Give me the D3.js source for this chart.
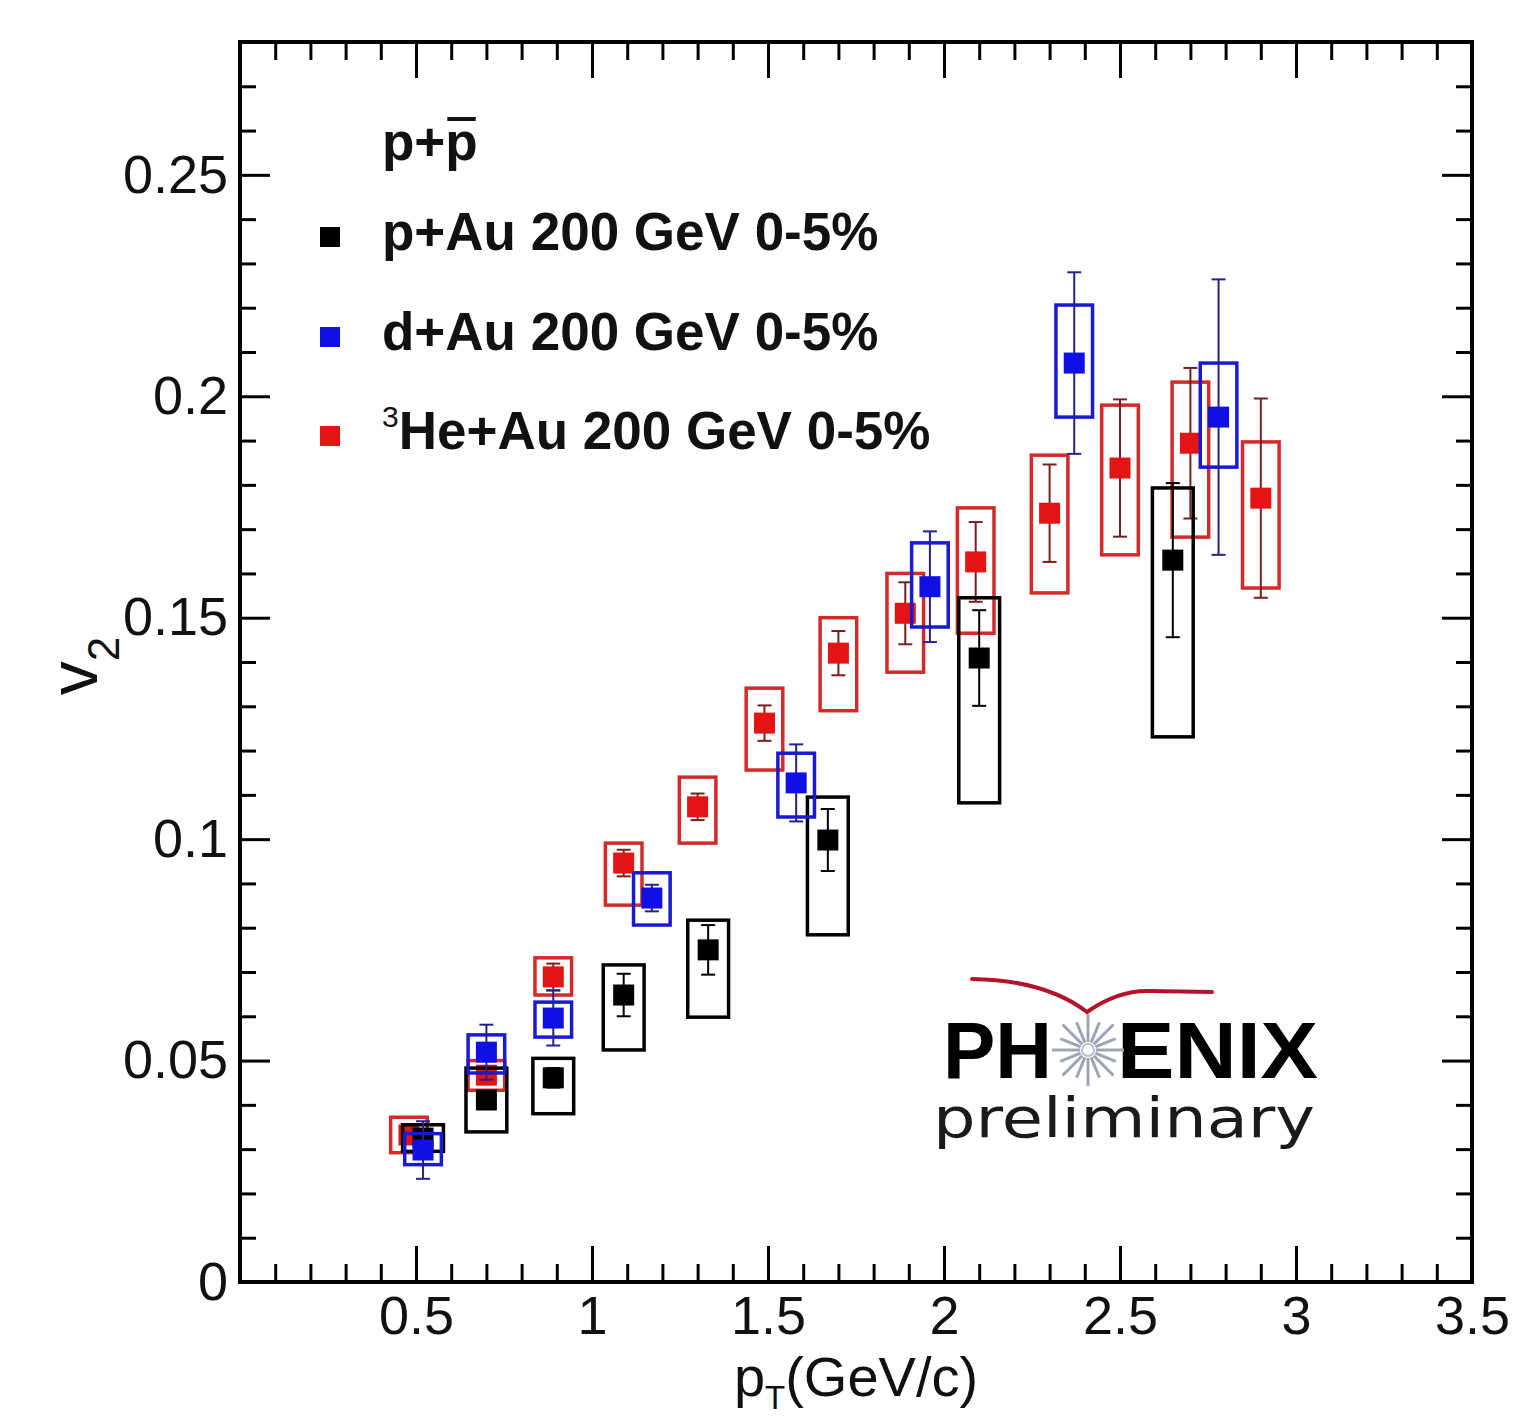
<!DOCTYPE html>
<html>
<head>
<meta charset="utf-8">
<script src="https://cdn.jsdelivr.net/npm/d3@7"></script>
<style>
  body { margin: 0; background: #fff; }
  svg { display: block; }
</style>
</head>
<body>
<svg id="chart" width="1532" height="1421"></svg>
<script>
// ---- axis ticks ----
const xMajorTicks = [0.5, 1, 1.5, 2, 2.5, 3, 3.5];
const yMajorTicks = [0, 0.05, 0.1, 0.15, 0.2, 0.25];
const xMinorTicks = [0.1,0.2,0.3,0.4,0.6,0.7,0.8,0.9,1.1,1.2,1.3,1.4,1.6,1.7,1.8,1.9,2.1,2.2,2.3,2.4,2.6,2.7,2.8,2.9,3.1,3.2,3.3,3.4];
const yMinorTicks = [0.01,0.02,0.03,0.04,0.06,0.07,0.08,0.09,0.11,0.12,0.13,0.14,0.16,0.17,0.18,0.19,0.21,0.22,0.23,0.24,0.26,0.27];

// ---- p+Au 200 GeV 0-5% ----
const pAuPt    = [0.52, 0.70, 0.89, 1.09, 1.33, 1.67, 2.10, 2.65];
const pAuV2    = [0.0325, 0.0411, 0.0461, 0.0648, 0.0750, 0.0998, 0.1409, 0.1630];
const pAuStat  = [0.0020, 0.0020, 0.0022, 0.0048, 0.0056, 0.0070, 0.0108, 0.0174];
const pAuSysLo = [0.0295, 0.0339, 0.0380, 0.0524, 0.0598, 0.0784, 0.1082, 0.1231];
const pAuSysHi = [0.0355, 0.0483, 0.0505, 0.0716, 0.0817, 0.1095, 0.1545, 0.1793];

// ---- d+Au 200 GeV 0-5% ----
const dAuPt    = [0.52, 0.70, 0.89, 1.17, 1.58, 1.96, 2.37, 2.78];
const dAuV2    = [0.0298, 0.0519, 0.0596, 0.0867, 0.1127, 0.1570, 0.2075, 0.1953];
const dAuStat  = [0.0065, 0.0062, 0.0062, 0.0030, 0.0087, 0.0125, 0.0205, 0.0311];
const dAuSysLo = [0.0265, 0.0472, 0.0553, 0.0806, 0.1050, 0.1479, 0.1953, 0.1840];
const dAuSysHi = [0.0335, 0.0558, 0.0632, 0.0924, 0.1194, 0.1669, 0.2206, 0.2075];

// ---- 3He+Au 200 GeV 0-5% ----
const heAuPt    = [0.48, 0.70, 0.89, 1.09, 1.30, 1.49, 1.70, 1.89, 2.09, 2.30, 2.50, 2.70, 2.90];
const heAuV2    = [0.0332, 0.0467, 0.0689, 0.0946, 0.1073, 0.1262, 0.1420, 0.1510, 0.1626, 0.1736, 0.1838, 0.1894, 0.1770];
const heAuStat  = [0.0020, 0.0020, 0.0030, 0.0030, 0.0030, 0.0040, 0.0050, 0.0070, 0.0090, 0.0110, 0.0155, 0.0170, 0.0225];
const heAuSysLo = [0.0292, 0.0433, 0.0648, 0.0851, 0.0991, 0.1156, 0.1290, 0.1377, 0.1465, 0.1556, 0.1642, 0.1682, 0.1567];
const heAuSysHi = [0.0372, 0.0500, 0.0732, 0.0991, 0.1140, 0.1341, 0.1500, 0.1600, 0.1748, 0.1867, 0.1980, 0.2032, 0.1897];

const FONT = "'Liberation Sans', Arial, Helvetica, sans-serif";

const svg = d3.select("#chart");
const plot = { left: 240, right: 1472, top: 42, bottom: 1282 };

const x = d3.scaleLinear().domain([0, 3.5]).range([plot.left, plot.right]);
const y = d3.scaleLinear().domain([0, 0.28]).range([plot.bottom, plot.top]);

function pack(pt, v2, stat, lo, hi) {
  return pt.map((p, i) => ({ pt: p, v2: v2[i], stat: stat[i], lo: lo[i], hi: hi[i] }));
}

// drawn in this order so later series sit on top
const series = [
  { key: "he", data: pack(heAuPt, heAuV2, heAuStat, heAuSysLo, heAuSysHi),
    marker: "#e51414", box: "#d42a2a", bar: "#7a1f1f", halfW: 0.052 },
  { key: "p",  data: pack(pAuPt, pAuV2, pAuStat, pAuSysLo, pAuSysHi),
    marker: "#000000", box: "#000000", bar: "#000000", halfW: 0.058 },
  { key: "d",  data: pack(dAuPt, dAuV2, dAuStat, dAuSysLo, dAuSysHi),
    marker: "#1010e6", box: "#1a1ad2", bar: "#23238f", halfW: 0.052 }
];

// ---- axes: inward ticks on all four sides ----
function styleAxis(g, withText) {
  g.select(".domain").remove();
  g.selectAll(".tick line").attr("stroke", "#000").attr("stroke-width", 3);
  if (withText) {
    g.selectAll(".tick text").attr("fill", "#111").style("font-family", FONT).style("font-size", "54px");
  } else {
    g.selectAll(".tick text").remove();
  }
}
const fmt = d => d === 0 ? "0" : String(+d.toFixed(2));

svg.append("g").attr("transform", `translate(0,${plot.bottom})`)
  .call(d3.axisBottom(x).tickValues(xMajorTicks).tickSizeInner(-36).tickSizeOuter(0).tickPadding(14).tickFormat(fmt))
  .call(g => styleAxis(g, true));
svg.append("g").attr("transform", `translate(0,${plot.bottom})`)
  .call(d3.axisBottom(x).tickValues(xMinorTicks).tickSizeInner(-18).tickSizeOuter(0).tickFormat(""))
  .call(g => styleAxis(g, false));
svg.append("g").attr("transform", `translate(0,${plot.top})`)
  .call(d3.axisTop(x).tickValues(xMajorTicks).tickSizeInner(-36).tickSizeOuter(0))
  .call(g => styleAxis(g, false));
svg.append("g").attr("transform", `translate(0,${plot.top})`)
  .call(d3.axisTop(x).tickValues(xMinorTicks).tickSizeInner(-18).tickSizeOuter(0))
  .call(g => styleAxis(g, false));

svg.append("g").attr("transform", `translate(${plot.left},0)`)
  .call(d3.axisLeft(y).tickValues(yMajorTicks).tickSizeInner(-30).tickSizeOuter(0).tickPadding(12).tickFormat(fmt))
  .call(g => styleAxis(g, true));
svg.append("g").attr("transform", `translate(${plot.left},0)`)
  .call(d3.axisLeft(y).tickValues(yMinorTicks).tickSizeInner(-16).tickSizeOuter(0).tickFormat(""))
  .call(g => styleAxis(g, false));
svg.append("g").attr("transform", `translate(${plot.right},0)`)
  .call(d3.axisRight(y).tickValues(yMajorTicks).tickSizeInner(-30).tickSizeOuter(0))
  .call(g => styleAxis(g, false));
svg.append("g").attr("transform", `translate(${plot.right},0)`)
  .call(d3.axisRight(y).tickValues(yMinorTicks).tickSizeInner(-16).tickSizeOuter(0))
  .call(g => styleAxis(g, false));

// frame
svg.append("rect")
  .attr("x", plot.left).attr("y", plot.top)
  .attr("width", plot.right - plot.left).attr("height", plot.bottom - plot.top)
  .attr("fill", "none").attr("stroke", "#000").attr("stroke-width", 4);

// ---- axis titles ----
const xTitle = svg.append("text")
  .attr("x", (plot.left + plot.right) / 2).attr("y", 1396)
  .attr("text-anchor", "middle")
  .style("font-family", FONT).style("font-size", "56px").attr("fill", "#111");
xTitle.append("tspan").text("p");
xTitle.append("tspan").attr("dy", 13).style("font-size", "33px").text("T");
xTitle.append("tspan").attr("dy", -13).text("(GeV/c)");

const yTitle = svg.append("text")
  .attr("transform", `translate(97,${(plot.top + plot.bottom) / 2 + 4}) rotate(-90)`)
  .attr("text-anchor", "middle")
  .style("font-family", FONT).style("font-size", "68px").attr("fill", "#111");
yTitle.append("tspan").text("v");
yTitle.append("tspan").attr("dy", 22).style("font-size", "44px").text("2");

// ---- PHENIX preliminary mark ----
const logo = svg.append("g");
logo.append("path")
  .attr("d", "M972,979 Q1045,980 1087,1012 Q1118,990 1150,991 L1212,992")
  .attr("fill", "none").attr("stroke", "#b5132a").attr("stroke-width", 4)
  .attr("stroke-linecap", "round");
logo.append("text").attr("x", 943).attr("y", 1078)
  .attr("textLength", 109).attr("lengthAdjust", "spacingAndGlyphs")
  .style("font-family", FONT).style("font-weight", "bold").style("font-size", "80px")
  .attr("fill", "#000").text("PH");
logo.append("text").attr("x", 1117).attr("y", 1078)
  .attr("textLength", 201).attr("lengthAdjust", "spacingAndGlyphs")
  .style("font-family", FONT).style("font-weight", "bold").style("font-size", "80px")
  .attr("fill", "#000").text("ENIX");
const starC = [1088, 1050];
logo.append("g").selectAll("line").data(d3.range(16)).join("line")
  .attr("x1", i => starC[0] + 8 * Math.cos(i * Math.PI / 8))
  .attr("y1", i => starC[1] + 8 * Math.sin(i * Math.PI / 8))
  .attr("x2", i => starC[0] + (i % 2 ? 30 : 36) * Math.cos(i * Math.PI / 8))
  .attr("y2", i => starC[1] + (i % 2 ? 30 : 36) * Math.sin(i * Math.PI / 8))
  .attr("stroke", "#9ea6b4").attr("stroke-width", 3);
logo.append("circle").attr("cx", starC[0]).attr("cy", starC[1]).attr("r", 6)
  .attr("fill", "#fff").attr("stroke", "#b8c0cc").attr("stroke-width", 2);
logo.append("text").attr("x", 933).attr("y", 1137)
  .attr("textLength", 382).attr("lengthAdjust", "spacingAndGlyphs")
  .style("font-family", "'DejaVu Sans', Verdana, sans-serif").style("font-size", "56px")
  .attr("fill", "#1a1a1a").text("preliminary");

// ---- data: systematic boxes, statistical bars, markers ----
const MS = 21;
series.forEach(s => {
  const g = svg.append("g");
  g.selectAll("rect.sys").data(s.data).join("rect").attr("class", "sys")
    .attr("x", d => x(d.pt - s.halfW))
    .attr("y", d => y(d.hi))
    .attr("width", d => x(d.pt + s.halfW) - x(d.pt - s.halfW))
    .attr("height", d => y(d.lo) - y(d.hi))
    .attr("fill", "none").attr("stroke", s.box).attr("stroke-width", 3.5);
  const bars = g.selectAll("g.stat").data(s.data).join("g").attr("class", "stat")
    .attr("stroke", s.bar).attr("stroke-width", 2);
  bars.append("line")
    .attr("x1", d => x(d.pt)).attr("x2", d => x(d.pt))
    .attr("y1", d => y(d.v2 + d.stat)).attr("y2", d => y(d.v2 - d.stat));
  bars.append("line")
    .attr("x1", d => x(d.pt) - 7).attr("x2", d => x(d.pt) + 7)
    .attr("y1", d => y(d.v2 + d.stat)).attr("y2", d => y(d.v2 + d.stat));
  bars.append("line")
    .attr("x1", d => x(d.pt) - 7).attr("x2", d => x(d.pt) + 7)
    .attr("y1", d => y(d.v2 - d.stat)).attr("y2", d => y(d.v2 - d.stat));
  g.selectAll("rect.mk").data(s.data).join("rect").attr("class", "mk")
    .attr("x", d => x(d.pt) - MS / 2).attr("y", d => y(d.v2) - MS / 2)
    .attr("width", MS).attr("height", MS).attr("fill", s.marker);
});

// ---- legend ----
const legend = svg.append("g").style("font-family", FONT).style("font-weight", "bold")
  .style("font-size", "53px").attr("fill", "#111");
const head = legend.append("text").attr("x", 382).attr("y", 160).text("p+");
const headW = head.node().getComputedTextLength();
const pbar = legend.append("text").attr("x", 382 + headW).attr("y", 160).text("p");
const pbarW = pbar.node().getComputedTextLength();
legend.append("line")
  .attr("x1", 382 + headW + 2).attr("x2", 382 + headW + pbarW - 2)
  .attr("y1", 119).attr("y2", 119)
  .attr("stroke", "#111").attr("stroke-width", 4);

const legendRows = [
  { color: series[1].marker, sup: "", label: "p+Au 200 GeV 0-5%", base: 250 },
  { color: series[2].marker, sup: "", label: "d+Au 200 GeV 0-5%", base: 350 },
  { color: series[0].marker, sup: "3", label: "He+Au 200 GeV 0-5%", base: 449 }
];
legendRows.forEach(r => {
  legend.append("rect").attr("x", 320).attr("y", r.base - 23).attr("width", 20).attr("height", 20)
    .attr("fill", r.color);
  const t = legend.append("text").attr("x", 382).attr("y", r.base);
  if (r.sup) {
    t.append("tspan").attr("dy", -22).style("font-size", "30px").style("font-weight", "normal").text(r.sup);
    t.append("tspan").attr("dy", 22).text(r.label);
  } else {
    t.text(r.label);
  }
});
</script>
</body>
</html>
